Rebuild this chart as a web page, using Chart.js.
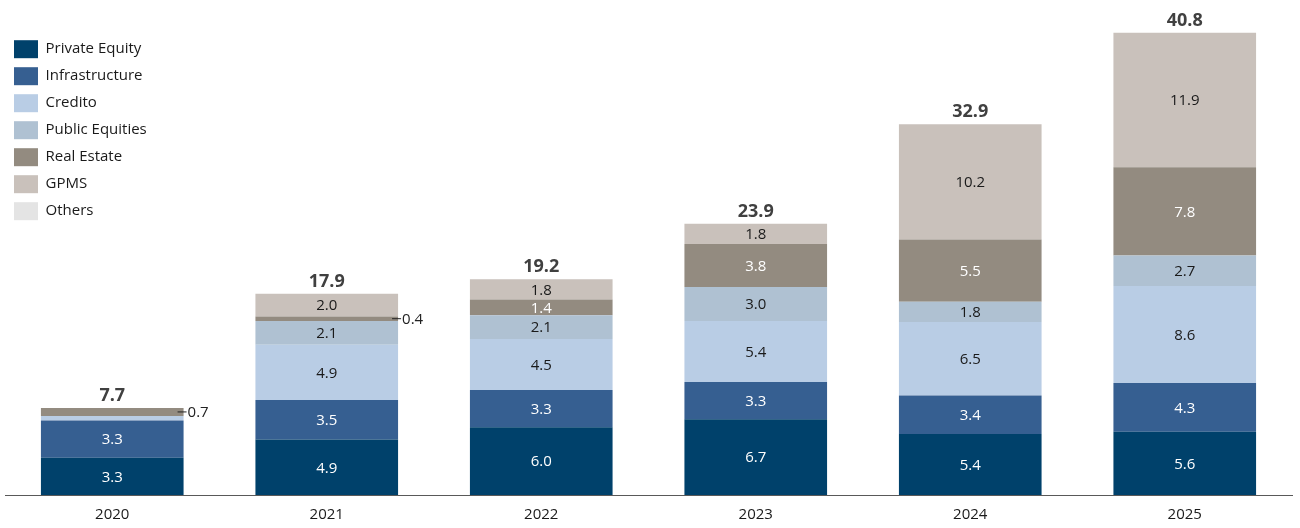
<!DOCTYPE html>
<html>
<head>
<meta charset="utf-8">
<script src="https://cdn.jsdelivr.net/npm/chart.js@4.4.1/dist/chart.umd.min.js"></script>
<style>
  body { margin: 0; background: #fff; }
  #wrap { width: 1300px; height: 528px; }
</style>
</head>
<body>
<div id="wrap"><canvas id="myChart"></canvas></div>
<script>
'use strict';

const years = ['2020', '2021', '2022', '2023', '2024', '2025'];

const privateEquity = [3.3, 4.9, 6.0, 6.7, 5.4, 5.6];
const infrastructure = [3.3, 3.5, 3.3, 3.3, 3.4, 4.3];
const credito = [0.4, 4.9, 4.5, 5.4, 6.5, 8.6];
const publicEquities = [0, 2.1, 2.1, 3.0, 1.8, 2.7];
const realEstate = [0.7, 0.4, 1.4, 3.8, 5.5, 7.8];
const gpms = [0, 2.0, 1.8, 1.8, 10.2, 11.9];
const others = [0, 0, 0, 0, 0, 0];
const totals = [7.7, 17.9, 19.2, 23.9, 32.9, 40.8];

const FONT = "'Open Sans', sans-serif";

// labels for small slices go outside with a little dash
const calloutSeries = ['Real Estate'];

const labelPlugin = {
  id: 'barLabels',
  afterDatasetsDraw(chart) {
    const ctx = chart.ctx;
    ctx.save();
    ctx.font = '15px ' + FONT;
    ctx.textBaseline = 'middle';
    chart.data.datasets.forEach((ds, di) => {
      const meta = chart.getDatasetMeta(di);
      meta.data.forEach((bar, i) => {
        const v = ds.data[i];
        if (!v) return;
        const midY = (bar.y + bar.base) / 2;
        if (v >= 1) {
          ctx.fillStyle = ds.labelColor;
          ctx.textAlign = 'center';
          ctx.fillText(v.toFixed(1), bar.x, midY + 1);
        } else if (calloutSeries.includes(ds.label)) {
          const right = bar.x + bar.width / 2;
          ctx.strokeStyle = '#222';
          ctx.lineWidth = 1;
          ctx.beginPath();
          ctx.moveTo(right - 6, midY);
          ctx.lineTo(right + 3, midY);
          ctx.stroke();
          ctx.fillStyle = '#222';
          ctx.textAlign = 'left';
          ctx.fillText(v.toFixed(1), right + 4, midY + 1);
        }
      });
    });

    // totals on top of each stack
    const first = chart.getDatasetMeta(0);
    const yScale = chart.scales.y;
    ctx.font = 'bold 18px ' + FONT;
    ctx.fillStyle = '#404040';
    ctx.textAlign = 'center';
    ctx.textBaseline = 'bottom';
    first.data.forEach((bar, i) => {
      let sum = 0;
      chart.data.datasets.forEach(ds => { sum += ds.data[i]; });
      ctx.fillText(totals[i].toFixed(1), bar.x, yScale.getPixelForValue(sum) - 3);
    });
    ctx.restore();
  }
};

const ctx = document.getElementById('myChart').getContext('2d');
const chart = new Chart(ctx, {
  type: 'bar',
  data: {
    labels: years,
    datasets: [
      { label: 'Private Equity', data: privateEquity, backgroundColor: '#00416B', labelColor: '#fff' },
      { label: 'Infrastructure', data: infrastructure, backgroundColor: '#365F91', labelColor: '#fff' },
      { label: 'Credito', data: credito, backgroundColor: '#B9CDE5', labelColor: '#1a1a1a' },
      { label: 'Public Equities', data: publicEquities, backgroundColor: '#AFC1D2', labelColor: '#1a1a1a' },
      { label: 'Real Estate', data: realEstate, backgroundColor: '#938B80', labelColor: '#fff' },
      { label: 'GPMS', data: gpms, backgroundColor: '#C9C1BB', labelColor: '#1a1a1a' },
      { label: 'Others', data: others, backgroundColor: '#E4E4E4', labelColor: '#1a1a1a' }
    ]
  },
  options: {
    responsive: true,
    maintainAspectRatio: false,
    animation: false,
    datasets: {
      bar: { barPercentage: 0.665, categoryPercentage: 1, borderWidth: 0 }
    },
    layout: { padding: { left: 5, right: 8, top: 0, bottom: 0 } },
    plugins: {
      tooltip: { enabled: false },
      legend: {
        position: 'chartArea',
        align: 'start',
        title: {
          display: true,
          text: ' ',
          font: { size: 1 },
          padding: { top: 0, bottom: 30 }
        },
        labels: {
          boxWidth: 24,
          boxHeight: 18,
          padding: 9,
          color: '#1a1a1a',
          font: { family: FONT, size: 15 }
        }
      }
    },
    scales: {
      x: {
        stacked: true,
        grid: { display: false, drawTicks: false, tickLength: 0 },
        border: { display: true, color: '#595959', width: 1 },
        ticks: { color: '#1a1a1a', font: { family: FONT, size: 15 }, padding: 11 },
        afterFit(scale) { scale.height = 33; }
      },
      y: {
        stacked: true,
        display: false,
        min: 0,
        max: 43.8
      }
    }
  },
  plugins: [labelPlugin]
});
</script>
</body>
</html>
